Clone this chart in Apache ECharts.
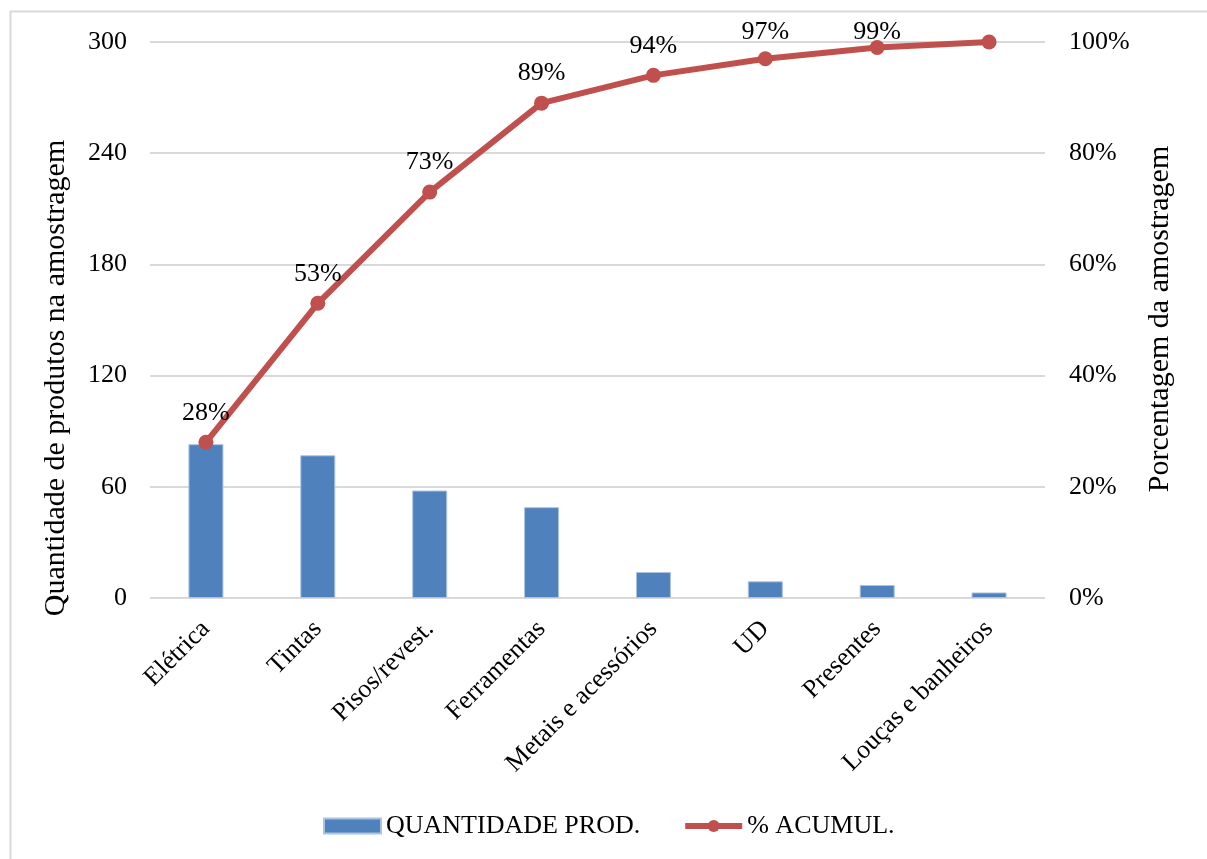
<!DOCTYPE html>
<html>
<head>
<meta charset="utf-8">
<title>Pareto – Quantidade de produtos</title>
<script src="https://cdn.jsdelivr.net/npm/echarts@6/dist/echarts.min.js"></script>
<style>
  html, body { margin: 0; padding: 0; background: #ffffff; }
  #chart { width: 1207px; height: 859px; }
</style>
</head>
<body>
<div id="chart"></div>
<script>
// Categories and values
const categories = ['Elétrica', 'Tintas', 'Pisos/revest.', 'Ferramentas', 'Metais e acessórios', 'UD', 'Presentes', 'Louças e banheiros'];
const quantidade = [83, 77, 58, 49, 14, 9, 7, 3];
const acumulado = [28, 53, 73, 89, 94, 97, 99, 100];
const leftTicks = { min: 0, max: 300, interval: 60 };
const rightTicks = { min: 0, max: 100, interval: 20 };

const FONT = "'Liberation Serif', 'Times New Roman', serif";
const TXT = '#000000';
const LABEL_TOP_LIMIT = 19; // data labels are kept below this line

const chart = echarts.init(document.getElementById('chart'), null, { renderer: 'canvas' });

chart.setOption({
  backgroundColor: '#ffffff',
  animation: false,
  textStyle: { fontFamily: FONT, color: TXT },
  grid: { left: 150, right: 162, top: 42, bottom: 261, containLabel: false },
  legend: {
    top: 808,
    left: 318,
    itemWidth: 57,
    itemHeight: 15,
    itemGap: 42,
    textStyle: { fontFamily: FONT, fontSize: 26, color: TXT },
    data: [
      { name: 'QUANTIDADE PROD.', icon: 'rect' },
      { name: '% ACUMUL.', lineStyle: { width: 6 } }
    ]
  },
  xAxis: {
    type: 'category',
    data: categories,
    boundaryGap: true,
    axisLine: { show: false },
    axisTick: { show: false },
    axisLabel: {
      rotate: 45,
      interval: 0,
      margin: 27,
      fontFamily: FONT,
      fontSize: 26,
      color: TXT
    }
  },
  yAxis: [
    {
      type: 'value',
      min: leftTicks.min,
      max: leftTicks.max,
      interval: leftTicks.interval,
      axisLine: { show: false },
      axisTick: { show: false },
      splitLine: { show: true, lineStyle: { color: '#D9D9D9', width: 2 } },
      axisLabel: { margin: 23, fontFamily: FONT, fontSize: 26, color: TXT }
    },
    {
      type: 'value',
      min: rightTicks.min,
      max: rightTicks.max,
      interval: rightTicks.interval,
      axisLine: { show: false },
      axisTick: { show: false },
      splitLine: { show: false },
      axisLabel: { margin: 24, fontFamily: FONT, fontSize: 26, color: TXT, formatter: '{value}%' }
    }
  ],
  series: [
    {
      name: 'QUANTIDADE PROD.',
      type: 'bar',
      data: quantidade,
      barWidth: 35,
      itemStyle: { color: '#4F81BD', borderColor: '#A9C3E3', borderWidth: 1 }
    },
    {
      name: '% ACUMUL.',
      type: 'line',
      yAxisIndex: 1,
      data: acumulado,
      symbol: 'circle',
      symbolSize: 15,
      lineStyle: { color: '#C0504D', width: 6 },
      itemStyle: { color: '#C0504D' },
      label: {
        show: true,
        position: 'top',
        distance: 9,
        fontFamily: FONT,
        fontSize: 26,
        color: TXT,
        formatter: p => (p.dataIndex === acumulado.length - 1 ? '' : p.value + '%')
      },
      // keep labels near the top edge from running out of the chart
      labelLayout: p => (p.labelRect.y < LABEL_TOP_LIMIT ? { dy: LABEL_TOP_LIMIT - p.labelRect.y } : {}),
      z: 3
    }
  ],
  graphic: [
    {
      type: 'rect',
      left: 8, top: 9,
      shape: { width: 1215, height: 870 },
      style: { fill: 'none', stroke: '#D9D9D9', lineWidth: 2 },
      silent: true,
      z: -1
    },
    {
      type: 'text',
      x: 56, y: 378,
      rotation: Math.PI / 2,
      style: {
        text: 'Quantidade de produtos na amostragem',
        font: '30px ' + FONT,
        fill: TXT,
        textAlign: 'center',
        textVerticalAlign: 'middle'
      }
    },
    {
      type: 'text',
      x: 1160, y: 319,
      rotation: Math.PI / 2,
      style: {
        text: 'Porcentagem da amostragem',
        font: '30px ' + FONT,
        fill: TXT,
        textAlign: 'center',
        textVerticalAlign: 'middle'
      }
    }
  ]
});
</script>
</body>
</html>
